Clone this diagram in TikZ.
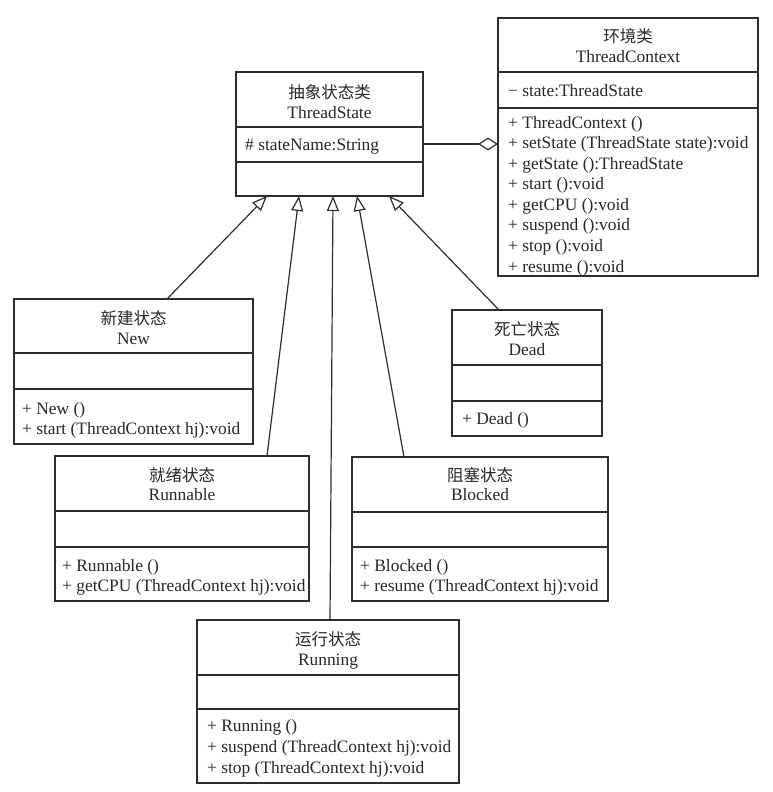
\documentclass[tikz,border=0pt]{standalone}
\usepackage{fontspec}
\setmainfont{Liberation Serif}
\newfontfamily\cjk{Noto Sans CJK SC}
\usetikzlibrary{arrows.meta,calc}
\definecolor{linec}{RGB}{45,45,45}
\definecolor{textc}{RGB}{40,40,40}
\newcommand\umlclass[7]{%
  \node[clsbox, minimum width=#4pt, minimum height=#5pt, anchor=north west] (#1) at (#2,#3) {};
  \draw[clsline] ($(#1.north west)+(0,#6)$) -- ($(#1.north east)+(0,#6)$);
  \draw[clsline] ($(#1.north west)+(0,#7)$) -- ($(#1.north east)+(0,#7)$);
}
\begin{document}
\begin{tikzpicture}[x=1pt,y=-1pt,
  clsbox/.style={draw=linec, line width=1.4pt, inner sep=0pt, outer sep=0pt, fill=white},
  clsline/.style={draw=linec, line width=1.4pt},
  txt/.style={anchor=base west, inner sep=0pt, text=textc, font=\fontsize{17.4}{20}\selectfont},
  ttl/.style={anchor=base, inner sep=0pt, text=textc, font=\fontsize{17.4}{20}\selectfont},
  cttl/.style={anchor=base, inner sep=0pt, text=textc, font=\fontsize{16.5}{20}\cjk\selectfont},
  gen/.style={draw=linec, line width=1.2pt, -{Triangle[open, length=15pt, width=12pt, line width=1.2pt]}},
  agg/.style={draw=linec, line width=1.2pt, -{Diamond[open, length=20pt, width=13pt, line width=1.2pt]}}]
\useasboundingbox (0,0) rectangle (773,792);

% classes
\umlclass{ts}{236}{72}{187}{124}{55}{90}
\umlclass{tc}{498}{18}{260}{258}{54}{90}
\umlclass{new}{14}{299}{239}{145}{54}{90}
\umlclass{dead}{452}{310}{150}{126}{55}{91}
\umlclass{run}{55}{456}{254}{145}{55}{91}
\umlclass{blk}{352}{457}{256}{144}{55}{90}
\umlclass{rng}{197}{620}{262}{163}{55}{89}

% ThreadState
\node[cttl] (ts-c) at (329.5,98) {抽象状态类};
\node[ttl] (ts-e) at (329.5,118) {ThreadState};
\node[txt] (ts-a) at (245,150) {\# stateName:String};

% ThreadContext
\node[cttl] (tc-c) at (628,43) {环境类};
\node[ttl] (tc-e) at (628,63) {ThreadContext};
\node[txt] (tc-a) at (508,96) {− state:ThreadState};
\node[txt] (tc-m1) at (508,128) {+ ThreadContext ()};
\node[txt] (tc-m2) at (508,148.6) {+ setState (ThreadState state):void};
\node[txt] (tc-m3) at (508,169.1) {+ getState ():ThreadState};
\node[txt] (tc-m4) at (508,189.7) {+ start ():void};
\node[txt] (tc-m5) at (508,210.3) {+ getCPU ():void};
\node[txt] (tc-m6) at (508,230.9) {+ suspend ():void};
\node[txt] (tc-m7) at (508,251.4) {+ stop ():void};
\node[txt] (tc-m8) at (508,272) {+ resume ():void};

% New
\node[cttl] (new-c) at (133.5,324) {新建状态};
\node[ttl] (new-e) at (133.5,344) {New};
\node[txt] (new-m1) at (22,414) {+ New ()};
\node[txt] (new-m2) at (22,434) {+ start (ThreadContext hj):void};

% Dead
\node[cttl] (dead-c) at (527,335) {死亡状态};
\node[ttl] (dead-e) at (527,355) {Dead};
\node[txt] (dead-m1) at (462,424) {+ Dead ()};

% Runnable
\node[cttl] (run-c) at (182,481) {就绪状态};
\node[ttl] (run-e) at (182,500) {Runnable};
\node[txt] (run-m1) at (62,571) {+ Runnable ()};
\node[txt] (run-m2) at (62,591) {+ getCPU (ThreadContext hj):void};

% Blocked
\node[cttl] (blk-c) at (480,481) {阻塞状态};
\node[ttl] (blk-e) at (480,500) {Blocked};
\node[txt] (blk-m1) at (360,571) {+ Blocked ()};
\node[txt] (blk-m2) at (360,591) {+ resume (ThreadContext hj):void};

% Running
\node[cttl] (rng-c) at (328,645) {运行状态};
\node[ttl] (rng-e) at (328,665) {Running};
\node[txt] (rng-m1) at (207,731) {+ Running ()};
\node[txt] (rng-m2) at (207,752) {+ suspend (ThreadContext hj):void};
\node[txt] (rng-m3) at (207,773) {+ stop (ThreadContext hj):void};

% aggregation
\coordinate (aggy) at (0,144);
\draw[agg] (ts.east |- aggy) -- (tc.west |- aggy);

% generalizations
\draw[gen] ($(new.north west)+(153,0)$) -- ($(ts.south west)+(31,0)$);
\draw[gen] ($(run.north west)+(212,0)$) -- ($(ts.south west)+(63,0)$);
\draw[gen] ($(rng.north west)+(133,0)$) -- ($(ts.south west)+(97,0)$);
\draw[gen] ($(blk.north west)+(52,0)$) -- ($(ts.south west)+(121,0)$);
\draw[gen] ($(dead.north west)+(47,0)$) -- ($(ts.south west)+(153,0)$);
\end{tikzpicture}
\end{document}
